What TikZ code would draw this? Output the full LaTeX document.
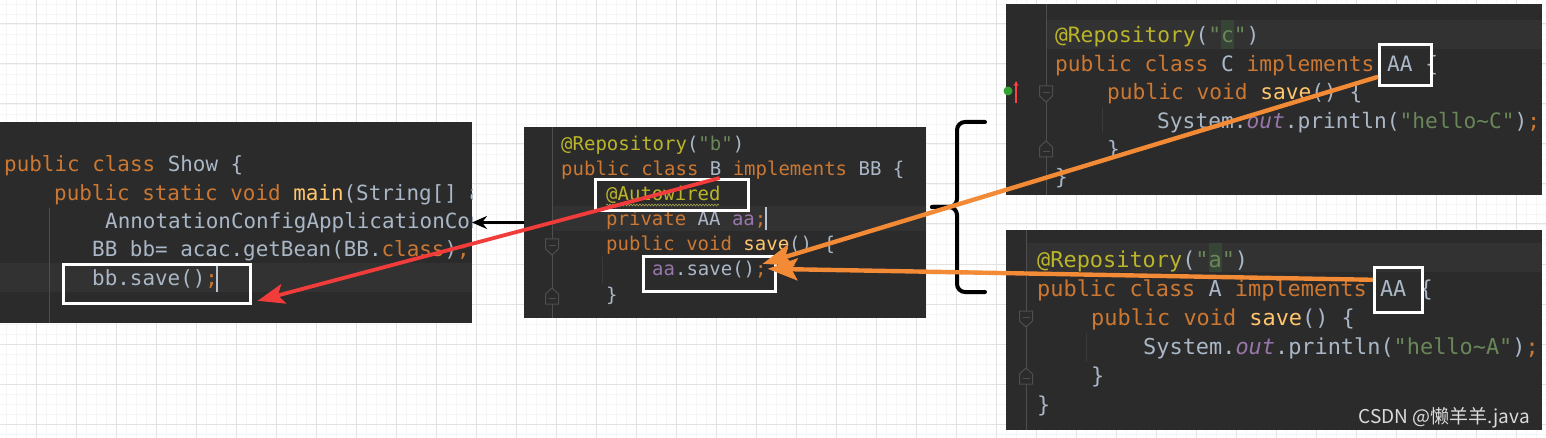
\documentclass[tikz,border=0pt]{standalone}
\usepackage{fontspec}
\usetikzlibrary{positioning, arrows.meta, calc, decorations.pathmorphing}
\newfontfamily\codefont{DejaVu Sans Mono}
\newfontfamily\markfont{Noto Sans CJK SC}
\definecolor{GridMajor}{HTML}{E2E2E2}
\definecolor{GridMinor}{HTML}{F5F5F5}
\definecolor{CodeBG}{HTML}{2B2B2B}
\definecolor{CodeRow}{HTML}{323232}
\definecolor{CodeGutter}{HTML}{4E4E4E}
\definecolor{CodeGuide}{HTML}{3A3A3A}
\definecolor{CodeText}{HTML}{A9B7C6}
\definecolor{CodeKey}{HTML}{CC7832}
\definecolor{CodeFn}{HTML}{FFC66D}
\definecolor{CodeAnno}{HTML}{BBB529}
\definecolor{CodeStr}{HTML}{6A8759}
\definecolor{CodeField}{HTML}{9876AA}
\definecolor{StrMark}{HTML}{364536}
\definecolor{ArrRed}{HTML}{F23B3B}
\definecolor{ArrOrange}{HTML}{F38A36}
\newcommand\jkw[1]{\textcolor{CodeKey}{#1}}
\newcommand\jfn[1]{\textcolor{CodeFn}{#1}}
\newcommand\jan[1]{\textcolor{CodeAnno}{#1}}
\newcommand\jstr[1]{\textcolor{CodeStr}{#1}}
\newcommand\jfld[1]{\textcolor{CodeField}{#1}}
\newcommand\jout[1]{\textcolor{CodeField}{\itshape #1}}
\newcommand\codeShow{\codefont\fontsize{20.9pt}{24pt}\selectfont}
\newcommand\codeB{\codefont\fontsize{19pt}{22pt}\selectfont}
\newcommand\codeC{\codefont\fontsize{21.2pt}{24pt}\selectfont}
\newcommand\codeA{\codefont\fontsize{21.9pt}{25pt}\selectfont}
\tikzset{
  gridminor/.style  = {draw=GridMinor, line width=0.8pt},
  gridmajor/.style  = {draw=GridMajor, line width=1pt},
  codepane/.style   = {fill=CodeBG, inner sep=0pt, outer sep=0pt, anchor=north west},
  coderow/.style    = {fill=CodeRow},
  codeline/.style   = {anchor=base west, inner sep=0pt, text=CodeText},
  gutterline/.style = {draw=CodeGutter, line width=0.9pt},
  guideline/.style  = {draw=CodeGuide, line width=1pt},
  caretline/.style  = {draw=CodeText!80!white, line width=1.6pt},
  foldmark/.style   = {draw=CodeGutter, fill=CodeBG, line width=1pt},
  markbox/.style    = {draw=white, line width=2.6pt, inner sep=0pt, anchor=north west},
  callarr/.style    = {-{Stealth[length=15pt, width=13pt]}, black, line width=2.6pt},
  redarr/.style     = {-{Stealth[length=27pt, width=20pt, inset=6pt]}, ArrRed, line width=3.8pt},
  orangearr/.style  = {-{Stealth[length=30pt, width=22pt, inset=6pt]}, ArrOrange, line width=4.4pt},
  bracestroke/.style= {black, line width=4pt, rounded corners=8pt, line cap=round},
}

\begin{document}
\begin{tikzpicture}[x=1pt, y=-1pt]
  \useasboundingbox (0,0) rectangle (1546,438);
  \fill[white] (0,0) rectangle (1546,438);
  % paper grid
  \foreach \gx in {6,16,...,1546} \draw[gridminor] (\gx,0) -- (\gx,438);
  \foreach \gy in {4,14,...,438} \draw[gridminor] (0,\gy) -- (1546,\gy);
  \foreach \gx in {36,76,...,1546} \draw[gridmajor] (\gx,0) -- (\gx,438);
  \foreach \gy in {24,64,...,438} \draw[gridmajor] (0,\gy) -- (1546,\gy);

  % editor panes
  \node[codepane, minimum width=472pt, minimum height=201pt] (showpane) at (0,122) {};
  \node[codepane, minimum width=402pt, minimum height=191pt] (bpane) at (524,127) {};
  \node[codepane, minimum width=536pt, minimum height=191pt] (cpane) at (1006,4) {};
  \node[codepane, minimum width=536pt, minimum height=200pt] (apane) at (1006,230) {};

  % current lines, gutters, guides
  \fill[coderow] (0,263) rectangle (472,292);
  \fill[coderow] (552,206) rectangle (926,231);
  \fill[coderow] (1046,20) rectangle (1542,49);
  \fill[coderow] (1026,243) rectangle (1542,272);
  \fill[StrMark] (1221,20) rectangle (1234,49);
  \fill[StrMark] (1209,243) rectangle (1222,272);
  \draw[gutterline] (49,208) -- (49,323);
  \draw[gutterline] (552,127) -- (552,318);
  \draw[gutterline] (1046,4) -- (1046,195);
  \draw[gutterline] (1026,230) -- (1026,430);
  \draw[guideline] (602,257) -- (602,283);
  \draw[guideline] (1102,107) -- (1102,133);
  \draw[guideline] (1086,333) -- (1086,362);
  \foreach \fx/\fy in {552/239, 1046/86, 1026/311} {
    \draw[foldmark] (\fx-6.5,\fy) -- ++(13,0) -- ++(0,10) -- ++(-6.5,6) -- ++(-6.5,-6) -- cycle;
    \draw[gutterline] (\fx-3.5,\fy+6) -- ++(7,0);
  }
  \foreach \fx/\fy in {552/288, 1046/141, 1026/368} {
    \draw[foldmark] (\fx-6.5,\fy+16) -- ++(13,0) -- ++(0,-10) -- ++(-6.5,-6) -- ++(-6.5,6) -- cycle;
    \draw[gutterline] (\fx-3.5,\fy+10) -- ++(7,0);
  }
  \fill[green!55!black!80!white] (1008,91) circle (4.5pt);
  \draw[-{Stealth[length=5pt, width=5pt]}, red!75!white, line width=1.4pt] (1016,103) -- (1016,81);

  % class Show
  \begin{scope}
    \clip (showpane.north west) rectangle (showpane.south east);
    \node[codeline, font=\codeShow] (show1) at (4,172) {\jkw{public class} Show \{};
    \node[codeline, font=\codeShow] (show2) at (54,201) {\jkw{public static void} \jfn{main}(String[] a};
    \node[codeline, font=\codeShow] (show3) at (105,229) {AnnotationConfigApplicationCon};
    \node[codeline, font=\codeShow] (show4) at (92,257) {BB bb= acac.getBean(BB.\jkw{class})\jkw{;}};
    \node[codeline, font=\codeShow] (show5) at (92,285) {bb.save()\jkw{;}};
  \end{scope}
  \draw[caretline] (217,265) -- (217,292);

  % class B
  \node[codeline, font=\codeB] (b1) at (561,151) {\jan{@Repository}(\jstr{"b"})};
  \node[codeline, font=\codeB] (b2) at (561,176) {\jkw{public class} B \jkw{implements} BB \{};
  \node[codeline, font=\codeB] (b3) at (606,201) {\jan{@Autowired}};
  \node[codeline, font=\codeB] (b4) at (606,226) {\jkw{private} AA \jfld{aa}\jkw{;}};
  \node[codeline, font=\codeB] (b5) at (606,251) {\jkw{public void} \jfn{save}() \{};
  \node[codeline, font=\codeB] (b6) at (652,276) {\jfld{aa}.save()\jkw{;}};
  \node[codeline, font=\codeB] (b7) at (606,301) {\}};
  \draw[decorate, decoration={snake, amplitude=1pt, segment length=3pt}, draw=CodeAnno!60!gray, line width=0.6pt] (606,205) -- (719,205);
  \draw[caretline] (766,207) -- (766,230);

  % class C
  \node[codeline, font=\codeC] (c1) at (1055,43) {\jan{@Repository}(\jstr{"c"})};
  \node[codeline, font=\codeC] (c2) at (1055,71.5) {\jkw{public class} C \jkw{implements} AA \{};
  \node[codeline, font=\codeC] (c3) at (1107,100) {\jkw{public void} \jfn{save}() \{};
  \node[codeline, font=\codeC] (c4) at (1157,128.5) {System.\jout{out}.println(\jstr{"hello\textasciitilde C"})\jkw{;}};
  \node[codeline, font=\codeC] (c5) at (1107,157) {\}};
  \node[codeline, font=\codeC] (c6) at (1055,185) {\}};

  % class A
  \node[codeline, font=\codeA] (a1) at (1037,267) {\jan{@Repository}(\jstr{"a"})};
  \node[codeline, font=\codeA] (a2) at (1037,296) {\jkw{public class} A \jkw{implements} AA \{};
  \node[codeline, font=\codeA] (a3) at (1091,325) {\jkw{public void} \jfn{save}() \{};
  \node[codeline, font=\codeA] (a4) at (1143,354) {System.\jout{out}.println(\jstr{"hello\textasciitilde A"})\jkw{;}};
  \node[codeline, font=\codeA] (a5) at (1091,383) {\}};
  \node[codeline, font=\codeA] (a6) at (1037,412) {\}};

  \node[anchor=base east, inner sep=0pt, text=white!86!black,
        font=\markfont\fontsize{19pt}{21pt}\selectfont] (csdn) at (1530,423) {CSDN @懒羊羊.java};

  % highlight boxes
  \node[markbox, minimum width=187pt, minimum height=39pt] (bbsave) at (62,263) {};
  \node[markbox, minimum width=153pt, minimum height=31pt] (autow) at (594,178) {};
  \node[markbox, minimum width=132pt, minimum height=35pt] (aasave) at (642,255) {};
  \node[markbox, minimum width=52pt, minimum height=41pt] (aaC) at (1378,43) {};
  \node[markbox, minimum width=48pt, minimum height=45pt] (aaA) at (1373,266) {};

  % brace over the two AA classes
  \draw[bracestroke] (985,122) -- (957,122) -- (957,207) -- (932,207);
  \draw[bracestroke] (932,207) -- (957,207) -- (957,292) -- (985,292);

  % connectors
  \draw[callarr] (bpane.west) -- (bpane.west -| showpane.east);
  \draw[redarr] ([xshift=-30pt]autow.north east) -- ([xshift=6pt, yshift=-17pt]bbsave.east);
  \draw[orangearr] ([yshift=-12pt]aaC.west) -- ([xshift=-14pt, yshift=10pt]aasave.east);
  \draw[orangearr] ([yshift=10pt]aaA.west) -- ([xshift=-9pt, yshift=5pt]aasave.east);
\end{tikzpicture}
\end{document}
